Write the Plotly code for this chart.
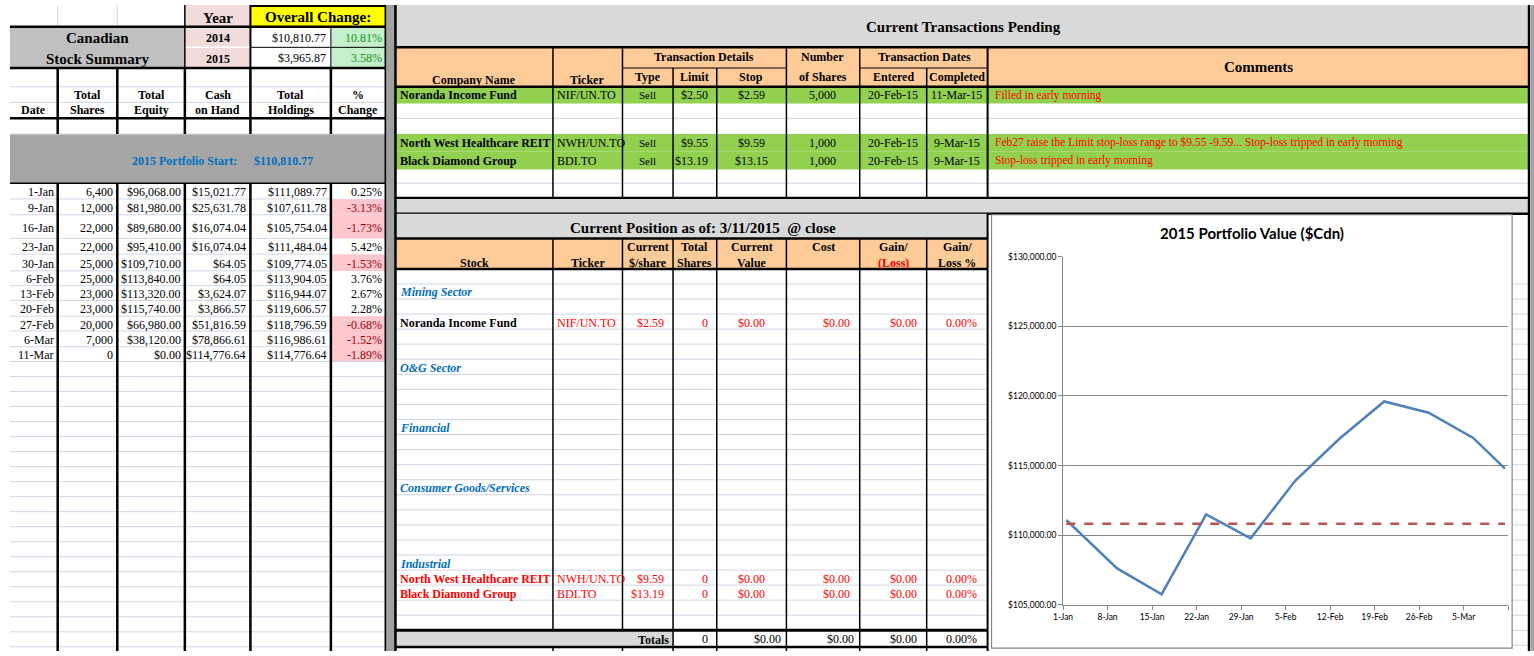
import plotly.graph_objects as go

# ---------------- data ----------------
summary_years = ["2014", "2015"]
overall_change_amt = [10810.77, 3965.87]
overall_change_pct = [10.81, 3.58]
portfolio_start = 110810.77

dates = ["1-Jan", "9-Jan", "16-Jan", "23-Jan", "30-Jan", "6-Feb", "13-Feb", "20-Feb", "27-Feb", "6-Mar", "11-Mar"]
chart_dates = ["2015-01-01", "2015-01-09", "2015-01-16", "2015-01-23", "2015-01-30", "2015-02-06",
               "2015-02-13", "2015-02-20", "2015-02-27", "2015-03-06", "2015-03-11"]
total_shares = [6400, 12000, 22000, 22000, 25000, 25000, 23000, 23000, 20000, 7000, 0]
total_equity = [96068.00, 81980.00, 89680.00, 95410.00, 109710.00, 113840.00, 113320.00, 115740.00, 66980.00, 38120.00, 0.00]
cash_on_hand = [15021.77, 25631.78, 16074.04, 16074.04, 64.05, 64.05, 3624.07, 3866.57, 51816.59, 78866.61, 114776.64]
total_holdings = [111089.77, 107611.78, 105754.04, 111484.04, 109774.05, 113904.05, 116944.07, 119606.57, 118796.59, 116986.61, 114776.64]
pct_change = [0.25, -3.13, -1.73, 5.42, -1.53, 3.76, 2.67, 2.28, -0.68, -1.52, -1.89]

# chart x ticks (the last tick closes the axis and has no label)
tick_dates = ["2015-01-01", "2015-01-08", "2015-01-15", "2015-01-22", "2015-01-29", "2015-02-05",
              "2015-02-12", "2015-02-19", "2015-02-26", "2015-03-05", "2015-03-12"]
tick_text = ["1-Jan", "8-Jan", "15-Jan", "22-Jan", "29-Jan", "5-Feb", "12-Feb", "19-Feb", "26-Feb", "5-Mar", ""]

tx_company = ["Noranda Income Fund", "North West Healthcare REIT", "Black Diamond Group"]
tx_ticker = ["NIF/UN.TO", "NWH/UN.TO", "BDI.TO"]
tx_type = ["Sell", "Sell", "Sell"]
tx_limit = [2.50, 9.55, 13.19]
tx_stop = [2.59, 9.59, 13.15]
tx_shares = [5000, 1000, 1000]
tx_entered = ["20-Feb-15", "20-Feb-15", "20-Feb-15"]
tx_completed = ["11-Mar-15", "9-Mar-15", "9-Mar-15"]
tx_comment = ["Filled in early morning",
              "Feb27 raise the Limit stop-loss range to $9.55 -9.59... Stop-loss tripped in early morning",
              "Stop-loss tripped in early morning"]
tx_slot = [0, 3, 4]

sectors = ["Mining Sector", "O&G Sector", "Financial", "Consumer Goods/Services", "Industrial"]
sector_slot = [1, 6, 10, 14, 19]
pos_stock = ["Noranda Income Fund", "North West Healthcare REIT", "Black Diamond Group"]
pos_ticker = ["NIF/UN.TO", "NWH/UN.TO", "BDI.TO"]
pos_price = [2.59, 9.59, 13.19]
pos_shares = [0, 0, 0]
pos_value = [0.0, 0.0, 0.0]
pos_cost = [0.0, 0.0, 0.0]
pos_gain = [0.0, 0.0, 0.0]
pos_gain_pct = [0.0, 0.0, 0.0]
pos_slot = [3, 20, 21]
pos_stock_color = ["black", "red", "red"]
totals = [0, 0.0, 0.0, 0.0, 0.0]

# ---------------- styling ----------------
SERIF = "Liberation Serif"
GRID = "#D0D7E5"
W, H = 1534, 656

shapes = []
notes = []


def money(v):
    return "${:,.2f}".format(v)


def rect(x0, y0, x1, y1, fill, lc=None, lw=0):
    shapes.append(dict(type="rect", xref="x", yref="y", x0=x0, y0=y0, x1=x1, y1=y1, layer="below",
                       fillcolor=fill, line=dict(color=lc or fill, width=lw)))


def hl(y, x0, x1, color="black", w=1):
    shapes.append(dict(type="line", xref="x", yref="y", x0=x0, x1=x1, y0=y, y1=y, layer="below",
                       line=dict(color=color, width=w)))


def vl(x, y0, y1, color="black", w=1):
    shapes.append(dict(type="line", xref="x", yref="y", x0=x, x1=x, y0=y0, y1=y1, layer="below",
                       line=dict(color=color, width=w)))


def txt(x, y, s, anchor="center", size=12, bold=False, italic=False, color="black", font=SERIF):
    if bold:
        s = "<b>" + s + "</b>"
    if italic:
        s = "<i>" + s + "</i>"
    notes.append(dict(x=x, y=y, xref="x", yref="y", text=s, showarrow=False, xanchor=anchor,
                      yanchor="middle", font=dict(family=font, size=size, color=color)))


# ================= left block =================
LC = [0, 48, 108, 176, 242, 323, 378]
rect(0, 0, 378, H, "white")
rect(0, 22, 176, 64, "#C0C0C0")
rect(176, 0, 242, 64, "#F2DCDB")
rect(242, 0, 378, 22, "#FFFF00")
rect(323, 22, 378, 64, "#C6EFCE")
vl(48, 0, 22, GRID)
vl(108, 0, 22, GRID)
hl(43, 176, 242, "white", 1.5)
hl(43, 242, 378, "black", 1)
hl(22, 0, 378, "black", 2.5)
hl(64, 0, 378, "black", 2.5)
vl(176, 0, 64, "black", 1.5)
vl(242, 0, 64, "black", 2)
vl(323, 22, 64, "black", 1)
hl(1, 242, 378, "black", 2)
txt(88, 34, "Canadian", size=15, bold=True)
txt(88, 55, "Stock Summary", size=15, bold=True)
txt(209, 13, "Year", size=15, bold=True)
txt(310, 12, "Overall Change:", size=15, bold=True)
for i, yr in enumerate(summary_years):
    yy = 33 + 21 * i
    txt(209, yy + 1, yr, size=12, bold=True)
    txt(320, yy, money(overall_change_amt[i]), anchor="right", size=12)
    txt(376, yy, "{:.2f}%".format(overall_change_pct[i]), anchor="right", size=12, color="#119911")

for y in [83, 99]:
    hl(y, 0, 378, GRID)
hdr_left = [("", "Date"), ("Total", "Shares"), ("Total", "Equity"), ("Cash", "on Hand"),
            ("Total", "Holdings"), ("%", "Change")]
for i, (a, b) in enumerate(hdr_left):
    cx = (LC[i] + LC[i + 1]) / 2
    if a:
        txt(cx, 91, a, size=12, bold=True)
    txt(cx, 107, b, size=12, bold=True)
hl(115, 0, 378, "black", 2.5)

rect(0, 131, 378, 181, "#A6A6A6")
txt(176, 158, "2015 Portfolio Start:", size=12, bold=True, color="#0070C0")
txt(275, 158, money(portfolio_start), size=12, bold=True, color="#0070C0")
hl(131, 0, 378, GRID)
hl(181, 0, 378, "black", 1.5)

row_edges = [181, 197, 213, 237, 253, 270, 285, 300, 316, 331, 347, 362]
for i in range(len(dates)):
    if pct_change[i] < 0:
        rect(323, row_edges[i], 378, row_edges[i + 1], "#FFC7CE")
for i in range(len(dates)):
    y0, y1 = row_edges[i], row_edges[i + 1]
    yc = (y0 + y1) / 2 + 1
    if i > 0:
        hl(y0, 0, 323, GRID)
    txt(46, yc, dates[i], anchor="right")
    txt(106, yc, "{:,}".format(total_shares[i]), anchor="right")
    txt(174, yc, money(total_equity[i]), anchor="right")
    txt(240, yc, money(cash_on_hand[i]), anchor="right")
    txt(321, yc, money(total_holdings[i]), anchor="right")
    neg = pct_change[i] < 0
    txt(376, yc, "{:.2f}%".format(pct_change[i]), anchor="right", color="#9C0006" if neg else "black")
y = 362.0
while y < H:
    hl(y, 0, 378, GRID)
    y += 15.25
for x in LC[1:-1]:
    vl(x, 64, 131, "black", 2.5)
    vl(x, 181, H, "black", 2.5)
vl(378, 0, H, "black", 2)
rect(379, 0, 388, H, "#A0A0A0")

# ================= transactions =================
TC = [388, 546.5, 616.5, 667.4, 711.4, 781.5, 855.3, 922.7, 984, 1529]
rect(388, 0, 1529, 43, "#D9D9D9")
txt(960, 22, "Current Transactions Pending", size=15, bold=True)
rect(388, 43, 1529, 83, "#FFCC99")
rect(388, 83, 1529, 196, "white")
tx_edges = [83, 100, 115, 131, 149, 167, 181, 196]
for s in tx_slot:
    rect(388, tx_edges[s], 1529, tx_edges[s + 1], "#92D050")
for s in (2, 6):
    hl(tx_edges[s], 388, 1529, GRID)
hl(64, 616.5, 781.5, "black", 1)
hl(64, 855.3, 984, "black", 1)
txt(467, 76, "Company Name", bold=True)
txt(581, 76, "Ticker", bold=True)
txt(699, 53, "Transaction Details", bold=True)
txt(642, 73, "Type", bold=True)
txt(689, 73, "Limit", bold=True)
txt(746, 73, "Stop", bold=True)
txt(818, 53, "Number", bold=True)
txt(818, 73, "of Shares", bold=True)
txt(920, 53, "Transaction Dates", bold=True)
txt(889, 73, "Entered", bold=True)
txt(953, 73, "Completed", bold=True)
txt(1257, 63, "Comments", size=15, bold=True)
for i, s in enumerate(tx_slot):
    yc = (tx_edges[s] + tx_edges[s + 1]) / 2
    txt(391, yc, tx_company[i], anchor="left", bold=True)
    txt(549, yc, tx_ticker[i], anchor="left")
    txt(642, yc, tx_type[i], size=11)
    txt(705, yc, money(tx_limit[i]), anchor="right")
    txt(746, yc, money(tx_stop[i]))
    txt(818, yc, "{:,}".format(tx_shares[i]))
    txt(889, yc, tx_entered[i])
    txt(953, yc, tx_completed[i])
    txt(989, yc, tx_comment[i], anchor="left", size=11.5, color="red")
for x in [546.5, 616.5, 781.5, 855.3]:
    vl(x, 43, 196, "black", 1.5)
for x in [667.4, 711.4, 922.7]:
    vl(x, 64, 196, "black", 1.5)
vl(984, 43, 196, "black", 2)
hl(43, 388, 1529, "black", 2.5)
hl(83, 388, 1529, "black", 2.5)
hl(196, 388, 1529, "black", 2.5)

rect(388, 197, 1529, 212, "#D9D9D9")
hl(212, 388, 1529, "black", 2.5)

# ================= current position =================
rect(388, 212, 984, 237, "#D9D9D9")
txt(698, 226, "Current Position as of: 3/11/2015  @ close", size=15, bold=True)
rect(388, 237, 984, 268, "#FFCC99")
rect(388, 268, 1529, H, "white")
hl(237, 388, 984, "black", 2.5)
pos_hdr = [("", "Stock"), ("", "Ticker"), ("Current", "$/share"), ("Total", "Shares"),
           ("Current", "Value"), ("Cost", ""), ("Gain/", "(Loss)"), ("Gain/", "Loss %")]
for i, (a, b) in enumerate(pos_hdr):
    cx = (TC[i] + TC[i + 1]) / 2
    if a:
        txt(cx, 246, a, bold=True)
    if b:
        txt(cx, 262, b, bold=True, color="red" if b == "(Loss)" else "black")
step = (635 - 268) / 24
for k in range(1, 24):
    hl(268 + k * step, 388, 984, GRID)
yy = 268 + step
while yy < H:
    hl(yy, 1512, 1529, GRID)
    yy += step
for i, s in enumerate(sectors):
    yc = 268 + (sector_slot[i] + 0.5) * step + 1
    txt(391, yc, s, anchor="left", bold=True, italic=True, color="#0070C0")
for i in range(len(pos_stock)):
    yc = 268 + (pos_slot[i] + 0.5) * step + 1
    txt(391, yc, pos_stock[i], anchor="left", bold=True, color=pos_stock_color[i])
    txt(549, yc, pos_ticker[i], anchor="left", color="red")
    txt(660, yc, money(pos_price[i]), anchor="right", color="red")
    txt(705, yc, str(pos_shares[i]), anchor="right", color="red")
    txt(746, yc, money(pos_value[i]), color="red")
    txt(848, yc, money(pos_cost[i]), anchor="right", color="red")
    txt(915, yc, money(pos_gain[i]), anchor="right", color="red")
    txt(975, yc, "{:.2f}%".format(pos_gain_pct[i]), anchor="right", color="red")
rect(388, 635, 667.4, 652, "#D9D9D9")
txt(665, 645, "Totals", anchor="right", bold=True)
txt(705, 644, str(totals[0]), anchor="right")
txt(778, 644, money(totals[1]), anchor="right")
txt(852, 644, money(totals[2]), anchor="right")
txt(915, 644, money(totals[3]), anchor="right")
txt(975, 644, "{:.2f}%".format(totals[4]), anchor="right")
hl(268, 388, 984, "black", 2.5)
hl(635, 388, 984, "black", 3)
hl(652, 388, 984, "black", 2.5)
for x in [546.5, 616.5]:
    vl(x, 237, 635, "black", 1.5)
    vl(x, 652, H, "black", 1.5)
for x in [667.4, 711.4, 781.5, 855.3, 922.7]:
    vl(x, 237, H, "black", 1.5)
vl(984, 212, H, "black", 2)

# chart box
rect(988, 213, 1512, 653, "white", "#868686", 1.2)

vl(388, 0, H, "black", 2.5)
vl(1529, 0, H, "black", 2.5)
rect(1531, 0, W, H, "#A0A0A0")

txt(1250, 232, "2015 Portfolio Value ($Cdn)", size=15, bold=True, font="Lato")

# ================= figure =================
fig = go.Figure()
fig.add_trace(go.Scatter(x=chart_dates, y=total_holdings, mode="lines", xaxis="x2", yaxis="y2",
                         xperiod=86400000, xperiodalignment="middle",
                         line=dict(color="#4F81BD", width=2.5), showlegend=False))
fig.add_trace(go.Scatter(x=[chart_dates[0], chart_dates[-1]], y=[portfolio_start, portfolio_start],
                         mode="lines", xaxis="x2", yaxis="y2",
                         xperiod=86400000, xperiodalignment="middle",
                         line=dict(color="#C0504D", width=2.5, dash="dash"), showlegend=False))

fig.update_layout(
    width=W, height=H,
    margin=dict(l=0, r=0, t=0, b=0),
    paper_bgcolor="white",
    plot_bgcolor="rgba(0,0,0,0)",
    xaxis=dict(range=[0, W], visible=False, domain=[0, 1], fixedrange=True),
    yaxis=dict(range=[H, 0], visible=False, domain=[0, 1], fixedrange=True),
    xaxis2=dict(type="date", domain=[1060 / W, 1508 / W], anchor="y2",
                range=["2015-01-01", "2015-03-12"], tickmode="array",
                tickvals=tick_dates, ticktext=tick_text,
                ticks="outside", ticklen=4, tickcolor="#868686",
                showline=True, linecolor="#868686", showgrid=False, zeroline=False,
                tickfont=dict(family="Lato", size=8.5, color="black")),
    yaxis2=dict(domain=[1 - 609 / H, 1 - 255.7 / H], anchor="x2", range=[105000, 130000],
                dtick=5000, tickformat="$,.2f", showgrid=True, gridcolor="#868686",
                showline=True, linecolor="#868686", ticks="outside", ticklen=4,
                tickcolor="#868686", zeroline=False,
                tickfont=dict(family="Lato", size=8.5, color="black")),
    shapes=shapes,
    annotations=notes,
)

fig.write_html("out.html", config={"displayModeBar": False},
               post_script="document.body.style.margin='0';document.body.style.overflow='hidden';")
